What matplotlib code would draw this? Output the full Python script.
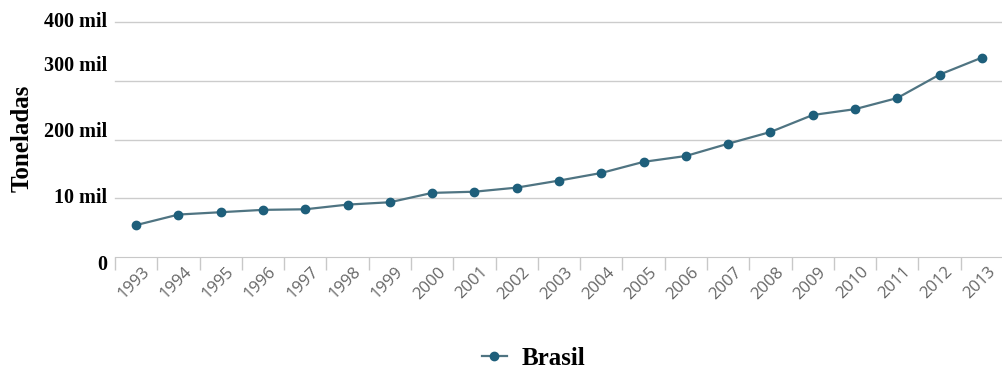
import numpy as np
import matplotlib
matplotlib.use('Agg')
import matplotlib.pyplot as plt
from matplotlib.transforms import offset_copy

years = ['1993', '1994', '1995', '1996', '1997', '1998', '1999', '2000', '2001', '2002', '2003',
         '2004', '2005', '2006', '2007', '2008', '2009', '2010', '2011', '2012', '2013']
# toneladas (mil)
brasil = [54, 72, 76, 80, 81, 89, 93, 109, 111, 118, 130,
          143, 162, 172, 193, 213, 242, 252, 271, 311, 340]

grid_levels = [100, 200, 300, 400]
ylabels = ['400 mil', '300 mil', '200 mil', '10 mil', '0']
ylabel_pos = [401, 326, 213, 100, -14]

serif = 'Liberation Serif'

fig = plt.figure(figsize=(10.03, 3.70), dpi=100)
ax = fig.add_axes([0.1147, 0.3062, 0.8853, 0.6330])

x = np.arange(len(years))

for g in grid_levels:
    ax.axhline(g, color='#cccccc', lw=1, clip_on=False, zorder=1)

line, = ax.plot(x, brasil, color='#4f7482', lw=1.6, marker='o', markersize=6,
                markerfacecolor='#1e5f7b', markeredgecolor='#1e5f7b', zorder=3,
                clip_on=False, label='Brasil')

ax.set_xlim(-0.5, len(years) - 0.5)
ax.set_ylim(0, 400)

for side in ['left', 'top', 'right']:
    ax.spines[side].set_visible(False)
ax.spines['bottom'].set_color('#c8c8c8')
ax.set_yticks([])

# tick marks between categories
ax.set_xticks(np.arange(-0.5, len(years), 1.0))
ax.set_xticklabels([])
ax.tick_params(axis='x', direction='out', length=9, width=1, color='#c8c8c8')

# rotated year labels
lbl_tr = offset_copy(ax.get_xaxis_transform(), fig=fig, x=11, y=-13, units='dots')
for i, yr in enumerate(years):
    ax.text(i, 0, yr, transform=lbl_tr, rotation=45, rotation_mode='anchor',
            ha='right', va='center', fontsize=12, color='#666666',
            family='Open Sans', clip_on=False)

# y labels as drawn
ytr = offset_copy(ax.get_yaxis_transform(), fig=fig, x=-8, y=0, units='dots')
for lab, pos in zip(ylabels, ylabel_pos):
    ax.text(0, pos, lab, transform=ytr, ha='right', va='center',
            fontsize=14.5, fontweight='bold', family=serif, clip_on=False)

fig.text(0.022, 0.627, 'Toneladas', rotation=90, ha='center', va='center',
         fontsize=18, fontweight='bold', family=serif)

fig.legend(handles=[line], loc='center', bbox_to_anchor=(0.532, 0.032), frameon=False,
           prop={'family': serif, 'weight': 'bold', 'size': 18},
           handlelength=1.0, handletextpad=0.6)

fig.savefig('out.png', dpi=100)
